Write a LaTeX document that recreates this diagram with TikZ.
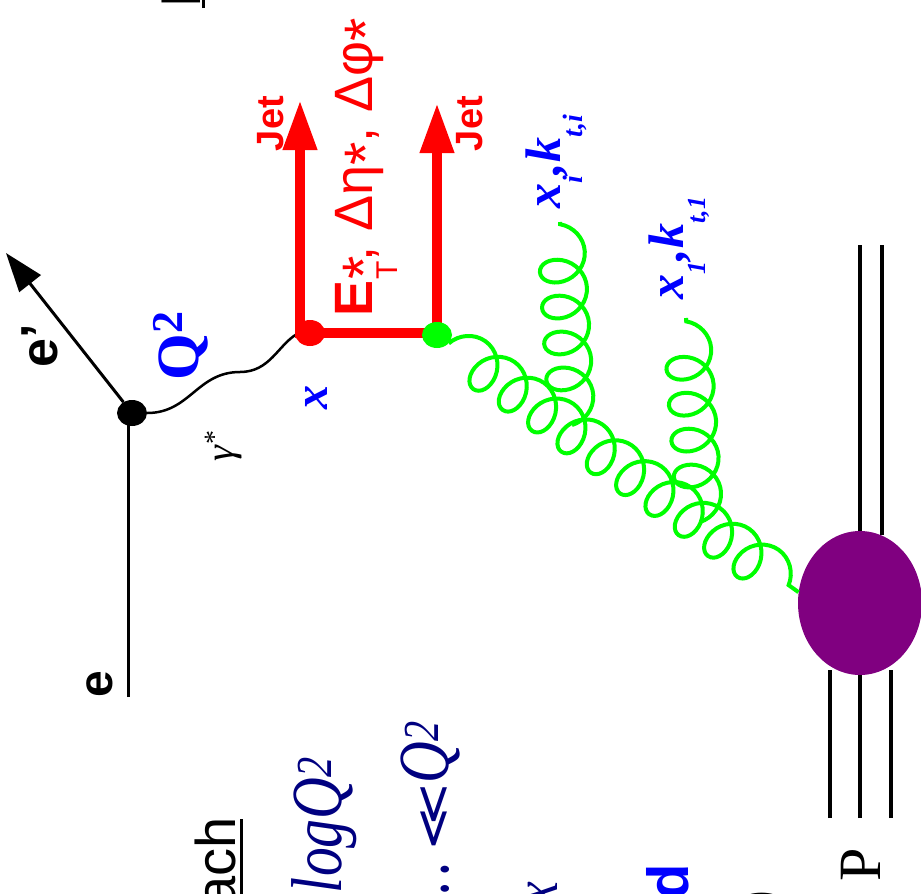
\documentclass[tikz,border=0pt]{standalone}
\usepackage{fontspec}
\setmainfont{Liberation Serif}
\setsansfont{Liberation Sans}
\newfontfamily\symsans{DejaVu Sans}
\usetikzlibrary{arrows.meta,decorations.pathmorphing,shapes.geometric,positioning}
\definecolor{navy}{RGB}{0,0,128}
\definecolor{blobpurple}{RGB}{128,0,128}
\newcommand{\fsz}[1]{\fontsize{#1}{#1}\selectfont}

\begin{document}
\begin{tikzpicture}[x=1pt, y=-1pt, line cap=butt,
 lbl/.style={rotate=90, inner sep=0pt, outer sep=0pt},
 vertex/.style={ellipse, fill, inner sep=0pt, minimum width=30pt, minimum height=26pt},
 lepton/.style={line width=3pt},
 jetline/.style={red, line width=10pt, line join=miter},
 gluon/.style={green, line width=4pt, decorate,
   decoration={coil, amplitude=23pt, segment length=36pt, aspect=0.85}},
 quarkline/.style={line width=3.5pt}]
\useasboundingbox (0,0) rectangle (921,894);
\clip (0,0) rectangle (921,894);

% proton and its remnant
\coordinate (pin) at (860,818);
\coordinate (pinl) at (830,818);
\coordinate (pinr) at (891,818);
\coordinate (pout) at (860,245);
\coordinate (poutr) at (882,245);
\node[ellipse, fill=blobpurple, minimum width=124pt, minimum height=144pt, inner sep=0pt] (blob) at (860,603) {};
\draw[quarkline] (pin) -- (blob.south);
\draw[quarkline] (pinl) -- (pinl |- blob.250);
\draw[quarkline] (pinr) -- (pinr |- blob.290);
\draw[quarkline] (pout) -- (blob.north);
\draw[quarkline] (poutr) -- (poutr |- blob.72);

% electron side
\node[vertex] (vtx) at (132,413) {};
\coordinate (ein) at (128.5,697);
\coordinate (eout) at (6,253);
\draw[lepton] (ein) -- (ein |- vtx);
\draw[lepton, -{Triangle[length=39pt,width=27pt]}] (vtx) -- (eout);
\draw[line width=2.5pt] (vtx.east) .. controls (190,413) and (197,372) .. (240,372)
  .. controls (270,372) and (278,345) .. (297,334);

% hard scattering and jets
\coordinate (jet1) at (300,100);
\coordinate (jet2) at (437,103);
\draw[jetline, {Triangle[length=50pt,width=32pt]}-{Triangle[length=50pt,width=32pt]}]
  (jet1) -- (300,333) -- (437,333) -- (jet2);
\node[vertex, red] (qv) at (310,333) {};
\node[vertex, green] (gv) at (437,335) {};

% gluon ladder
\coordinate (g1) at (572,425);
\coordinate (g1end) at (560,222);
\coordinate (g2) at (700,522);
\coordinate (g2end) at (686,318);
\draw[gluon] (gv) -- (blob.170);
\draw[gluon, decoration={mirror}] (g1) -- (g1end);
\draw[gluon, decoration={mirror}] (g2) -- (g2end);

% labels
\node[lbl, anchor=base west, font=\sffamily\bfseries\fsz{48}] (elbl) at (112,697) {e};
\node[lbl, anchor=base west, font=\sffamily\bfseries\fsz{52}] (eplbl) at (57,367) {e'};
\node[lbl, anchor=base west, font=\fsz{40}] (glbl) at (233,461) {\textit{γ}\textsuperscript{*}};
\node[lbl, anchor=base west, font=\bfseries\fsz{60}, blue] (qlbl) at (198,380) {Q\raisebox{16pt}{\fsz{44}2}};
\node[lbl, anchor=base west, font=\bfseries\itshape\fsz{48}, blue] (xlbl) at (327,409) {x};
\node[lbl, anchor=base west, font=\sffamily\bfseries\fsz{38}, red] (jetlbl1) at (283,151) {Jet};
\node[lbl, anchor=base west, font=\sffamily\bfseries\fsz{38}, red] (jetlbl2) at (482,151) {Jet};
\node[lbl, anchor=base west, font=\sffamily\fsz{54}, red] (obs) at (372,316)
  {\textbf{E}\rlap{\raisebox{-12pt}{\fsz{60}*}}\raisebox{-25pt}{\fsz{30}T}, Δη\raisebox{-14pt}{\fsz{60}*}, Δφ\raisebox{-14pt}{\fsz{60}*}};
\node[lbl, anchor=base west, font=\bfseries\itshape\fsz{50}, blue] (xilbl) at (560,208)
  {x\raisebox{-22pt}{\fsz{28}i},k\raisebox{-22pt}{\fsz{28}t,i}};
\node[lbl, anchor=base west, font=\bfseries\itshape\fsz{50}, blue] (x1lbl) at (683,299)
  {x\raisebox{-22pt}{\fsz{26}1},k\raisebox{-22pt}{\fsz{26}t,1}};
\node[lbl, anchor=base west, font=\fsz{60}] (plbl) at (880,881) {P};

% headings and ordering, cut by the frame
\node[lbl, anchor=base west, font=\sffamily\fsz{56}] (bfkl) at (200,8) {BFKL approach};
\draw[line width=3pt] ([xshift=3.5pt]bfkl.base west) -- ([xshift=3.5pt]bfkl.base east);
\node[lbl, anchor=base east, font=\sffamily\fsz{56}] (dglap) at (235,817) {DGLAP approach};
\draw[line width=3pt] ([xshift=6.5pt,yshift=-2pt]dglap.base east) -- ([xshift=6.5pt]dglap.base west);
\node[lbl, anchor=base west, font=\itshape\fsz{72}, navy] (logq) at (341,893)
  {\scalebox{0.8}[1]{logQ\textsuperscript{2}}};
\node[lbl, anchor=base east, font=\itshape\fsz{72}, navy] (order) at (448,721)
  {\scalebox{0.8}[1]{…}\,\scalebox{1.4}[1]{\symsans\upshape\fsz{46}≪}\scalebox{0.8}[1]{Q\textsuperscript{2}}};
\node[lbl, anchor=base east, font=\itshape\fsz{64}, navy] (xpart) at (557,882) {\scalebox{0.8}[1]{x}};
\node[lbl, anchor=base east, font=\sffamily\bfseries\fsz{58}, blue] (ord) at (688,864) {ordered};
\node[lbl, anchor=base east, font=\fsz{60}] (lnx) at (776,891) {ln(1/x)};
\end{tikzpicture}
\end{document}
